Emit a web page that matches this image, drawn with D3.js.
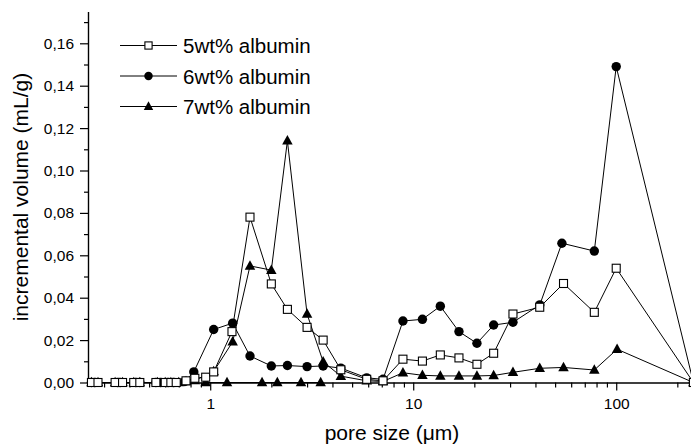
<!DOCTYPE html>
<html>
<head>
<meta charset="utf-8">
<script src="https://cdnjs.cloudflare.com/ajax/libs/d3/7.8.5/d3.min.js"></script>
<style>
body { margin: 0; background: #fff; }
svg { display: block; font-family: "Liberation Sans", Arial, sans-serif; }
.axis path, .axis line { stroke: #000; stroke-width: 1.2; }
.axis text { font-size: 15.5px; fill: #000; font-family: "Liberation Sans", Arial, sans-serif; }
</style>
</head>
<body>
<div id="container"></div>
<script>

//  pore sizes (um) and incremental volumes (mL/g)

var poreSize5 = [0.26, 0.28, 0.34, 0.37, 0.42, 0.45, 0.54, 0.6, 0.64, 0.68, 0.76, 0.84, 0.95, 1.04, 1.28, 1.57, 2.0, 2.4, 3.0, 3.6, 4.4, 5.9, 7.1, 8.9, 11.1, 13.6, 16.8, 20.6, 24.9, 31, 42, 55, 78, 100, 240];
var volume5 = [0, 0, 0, 0, 0, 0, 0, 0, 0, 0, 0.0008, 0.002, 0.0025, 0.005, 0.024, 0.078, 0.0465, 0.0345, 0.026, 0.02, 0.006, 0.0015, 0.0008, 0.011, 0.0101, 0.013, 0.0116, 0.0086, 0.0138, 0.0323, 0.0355, 0.0467, 0.0331, 0.0539, 0];

var poreSize6 = [0.26, 0.27, 0.35, 0.36, 0.43, 0.45, 0.54, 0.57, 0.62, 0.66, 0.75, 0.83, 1.04, 1.29, 1.57, 2.0, 2.4, 3.0, 3.6, 4.4, 5.9, 7.1, 8.9, 11.1, 13.6, 16.8, 20.6, 24.9, 31, 42, 54, 78, 100, 240];
var volume6 = [0, 0, 0, 0, 0, 0, 0, 0, 0, 0, 0.0005, 0.005, 0.025, 0.028, 0.0125, 0.0078, 0.008, 0.0075, 0.0078, 0.0068, 0.0022, 0.0015, 0.029, 0.0298, 0.036, 0.024, 0.0185, 0.0271, 0.0284, 0.0366, 0.0657, 0.062, 0.149, 0];

var poreSize7 = [0.26, 0.28, 0.34, 0.37, 0.42, 0.45, 0.55, 0.6, 0.64, 0.7, 0.76, 0.84, 1.04, 1.29, 1.57, 2.0, 2.4, 3.0, 3.6, 4.4, 5.9, 7.1, 8.9, 11.1, 13.6, 16.8, 20.6, 24.9, 31, 42, 55, 78, 101, 240];
var volume7 = [0, 0, 0, 0, 0, 0, 0, 0, 0, 0, 0.0005, 0.001, 0.0052, 0.0192, 0.055, 0.053, 0.114, 0.0323, 0.0098, 0.003, 0.0008, 0.0005, 0.0046, 0.0034, 0.0031, 0.0031, 0.0031, 0.0033, 0.0048, 0.0067, 0.0071, 0.0059, 0.0157, 0];

//  second set of 7wt triangles lying on the axis
var poreSize7b = [0.95, 1.21, 1.8, 2.14, 2.8, 3.5];
var volume7b = [0, 0, 0, 0, 0, 0];

var seriesNames = ["5wt% albumin", "6wt% albumin", "7wt% albumin"];

var yMajorTicks = [0, 0.02, 0.04, 0.06, 0.08, 0.1, 0.12, 0.14, 0.16];
var yMinorTicks = [0.01, 0.03, 0.05, 0.07, 0.09, 0.11, 0.13, 0.15, 0.17];
var xMajorTicks = [1, 10, 100];
var xMinorTicks = [0.3, 0.4, 0.5, 0.6, 0.7, 0.8, 0.9, 2, 3, 4, 5, 6, 7, 8, 9, 20, 30, 40, 50, 60, 70, 80, 90, 200];

var width = 691;
var height = 445;

var x = d3.scaleLog()
    .domain([0.25, 250])
    .range([88, 697]);

var y = d3.scaleLinear()
    .domain([0, 0.175])
    .range([382.5, 11.5]);

var commaFormat = function(d) {
    return d3.format(".2f")(d).replace(".", ",");
};

var svg = d3.select("#container")
    .append("svg")
    .attr("width", width)
    .attr("height", height);

//  axes

svg.append("g")
    .attr("class", "axis")
    .attr("transform", "translate(88,0)")
    .call(d3.axisLeft(y).tickValues(yMinorTicks).tickSize(4).tickSizeOuter(0).tickFormat(""));

svg.append("g")
    .attr("class", "axis")
    .attr("transform", "translate(88,0)")
    .call(d3.axisLeft(y).tickValues(yMajorTicks).tickSize(8).tickSizeOuter(0).tickPadding(6).tickFormat(commaFormat));

svg.append("g")
    .attr("class", "axis")
    .attr("transform", "translate(0,382.5)")
    .call(d3.axisBottom(x).tickValues(xMinorTicks).tickSize(5).tickSizeOuter(0).tickFormat(""));

svg.append("g")
    .attr("class", "axis")
    .attr("transform", "translate(0,382.5)")
    .call(d3.axisBottom(x).tickValues(xMajorTicks).tickSize(8).tickSizeOuter(0).tickPadding(7).tickFormat(d3.format("d")));

svg.append("text")
    .attr("transform", "translate(28,197) rotate(-90)")
    .attr("text-anchor", "middle")
    .style("font-size", "21px")
    .text("incremental volume (mL/g)");

svg.append("text")
    .attr("x", 392)
    .attr("y", 440)
    .attr("text-anchor", "middle")
    .style("font-size", "21px")
    .text("pore size (\u03bcm)");

//  markers

function drawMarker(g, shape, cx, cy, scale) {
    var s = scale || 1;
    if (shape == "square") {
        g.append("rect")
            .attr("x", cx - 4 * s)
            .attr("y", cy - 4 * s)
            .attr("width", 8 * s)
            .attr("height", 8 * s)
            .attr("fill", "#fff")
            .attr("stroke", "#000")
            .attr("stroke-width", 1.1);
    } else if (shape == "circle") {
        g.append("circle")
            .attr("cx", cx)
            .attr("cy", cy)
            .attr("r", 4.7 * s)
            .attr("fill", "#000");
    } else {
        var h = 9.5 * s, w = 10.5 * s;
        g.append("path")
            .attr("d", "M" + cx + "," + (cy - h * 0.6) + "L" + (cx + w / 2) + "," + (cy + h * 0.4) + "L" + (cx - w / 2) + "," + (cy + h * 0.4) + "Z")
            .attr("fill", "#000");
    }
}

var line = d3.line()
    .x(function(d) { return x(d[0]); })
    .y(function(d) { return y(d[1]); });

function drawSeries(xs, vs, shape) {
    var pts = xs.map(function(d, i) { return [d, vs[i]]; });
    var g = svg.append("g");
    g.append("path")
        .attr("d", line(pts))
        .attr("fill", "none")
        .attr("stroke", "#000")
        .attr("stroke-width", 1);
    pts.forEach(function(d) {
        drawMarker(g, shape, x(d[0]), y(d[1]));
    });
}

drawSeries(poreSize7b, volume7b, "triangle");
drawSeries(poreSize7, volume7, "triangle");
drawSeries(poreSize6, volume6, "circle");
drawSeries(poreSize5, volume5, "square");

//  legend

var legendShapes = ["square", "circle", "triangle"];
var legendRows = [45.5, 76, 106.5];

for (var i = 0; i < seriesNames.length; i++) {
    var lg = svg.append("g");
    lg.append("line")
        .attr("x1", 120)
        .attr("x2", 177)
        .attr("y1", legendRows[i])
        .attr("y2", legendRows[i])
        .attr("stroke", "#000")
        .attr("stroke-width", 1);
    drawMarker(lg, legendShapes[i], 148.5, legendRows[i], 0.9);
    lg.append("text")
        .attr("x", 183)
        .attr("y", legendRows[i] + 7.5)
        .style("font-size", "20.5px")
        .text(seriesNames[i]);
}

</script>
</body>
</html>
